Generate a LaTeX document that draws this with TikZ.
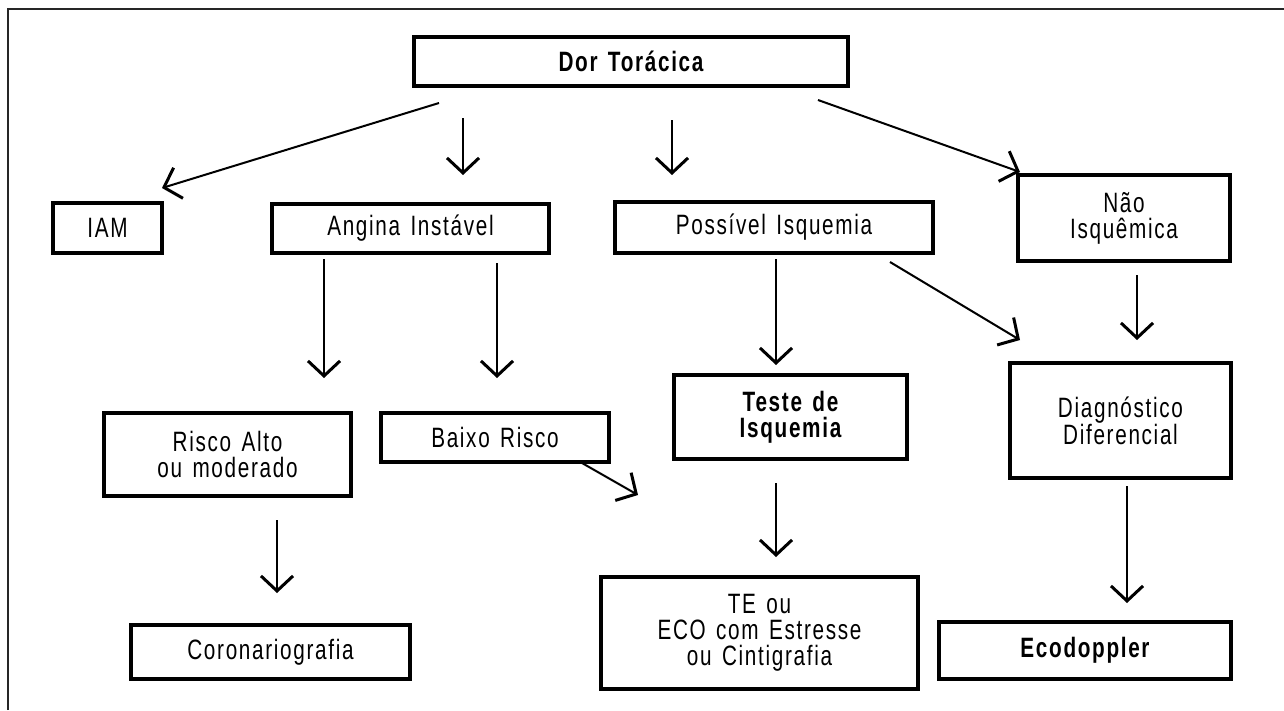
\documentclass[tikz,border=0pt]{standalone}
\usepackage{fontspec}
\setmainfont{Liberation Sans}[FakeStretch=0.74,LetterSpace=6,WordSpace=1.4]
\usetikzlibrary{arrows.meta}
\tikzset{
  caixa/.style={draw, line width=3.2pt, inner sep=0pt, align=center, font=\fontsize{28}{26}\selectfont},
  negrito/.style={font=\fontsize{28}{26}\selectfont\bfseries},
  seta/.style={line width=2pt, -{Straight Barb[length=15pt,width=32pt,line width=3pt]}}
}

\begin{document}
\begin{tikzpicture}[x=1pt,y=-1pt]
\useasboundingbox (0,0) rectangle (1284,710);
\draw[line width=1.5pt, black!85] (8,710) -- (8,9) -- (1284,9);

\node[caixa, negrito, minimum width=434pt, minimum height=49pt] (dor) at (631,61.5) {Dor Torácica};
\node[caixa, minimum width=109pt, minimum height=50pt] (iam) at (107.5,228) {IAM};
\node[caixa, minimum width=277pt, minimum height=49pt] (angina) at (410.5,228.5) {Angina Instável};
\node[caixa, minimum width=318pt, minimum height=51pt] (possivel) at (774,227.5) {Possível Isquemia};
\node[caixa, minimum width=212pt, minimum height=86pt] (nao) at (1124,218) {Não\\Isquêmica};
\node[caixa, minimum width=247pt, minimum height=83pt] (risco) at (227.5,454.5) {Risco Alto\\ou moderado};
\node[caixa, minimum width=228pt, minimum height=49pt] (baixo) at (495,437.5) {Baixo Risco};
\node[caixa, negrito, minimum width=233pt, minimum height=84pt] (teste) at (790.5,417) {Teste de\\Isquemia};
\node[caixa, minimum width=221pt, minimum height=115pt] (diag) at (1120.5,420.5) {Diagnóstico\\Diferencial};
\node[caixa, minimum width=279pt, minimum height=54pt] (coro) at (270.5,652) {Coronariografia};
\node[caixa, minimum width=317pt, minimum height=112pt] (eco) at (759.5,633) {TE ou\\ECO com Estresse\\ou Cintigrafia};
\node[caixa, negrito, minimum width=292pt, minimum height=57pt] (ecodop) at (1085,650.5) {Ecodoppler};

% pontas soltas das setas
\foreach \n/\x/\y in {a1/439/103, b1/162/188, a2/463/118, b2/463/175,
  a3/672/120, b3/672/175, a4/818/100, b4/1020/172,
  a5/324/259, b5/324/378, a6/497/263, b6/497/378,
  a7/776/259, b7/776/365, a8/890/262, b8/1020/340,
  a9/1137/275, b9/1137/340, a10/277/520, b10/277/593,
  a11/582/463, b11/638/495, a12/776/483, b12/776/557,
  a13/1127/486, b13/1127/603}
  \coordinate (\n) at (\x,\y);

\foreach \i in {1,...,13}
  \draw[seta] (a\i) -- (b\i);
\end{tikzpicture}
\end{document}
